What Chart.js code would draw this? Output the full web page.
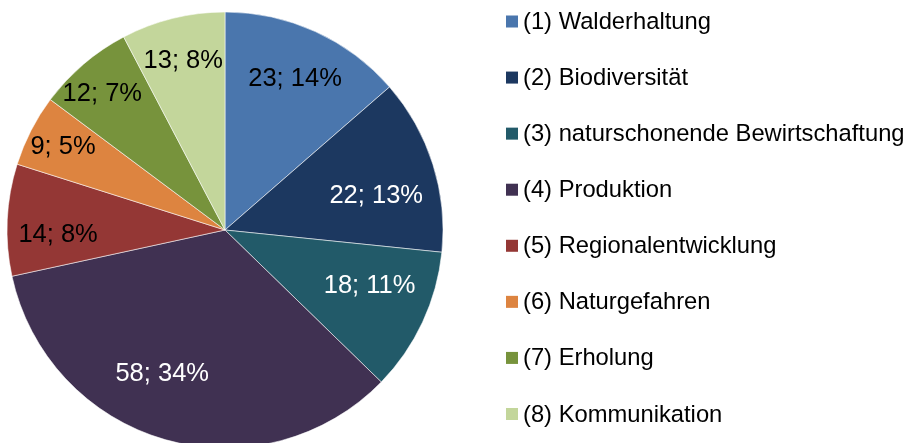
<!DOCTYPE html>
<html>
<head>
<meta charset="utf-8">
<script src="https://cdn.jsdelivr.net/npm/chart.js@4/dist/chart.umd.min.js"></script>
<style>
  html, body { margin: 0; padding: 0; background: #fff; overflow: hidden; }
  #wrap { position: relative; width: 908px; height: 452px; }
</style>
</head>
<body>
<div id="wrap"><canvas id="pieChart"></canvas></div>
<script>
// Data
const categories = [
  "(1) Walderhaltung",
  "(2) Biodiversität",
  "(3) naturschonende Bewirtschaftung",
  "(4) Produktion",
  "(5) Regionalentwicklung",
  "(6) Naturgefahren",
  "(7) Erholung",
  "(8) Kommunikation"
];
const counts = [23, 22, 18, 58, 14, 9, 12, 13];
const percents = [14, 13, 11, 34, 8, 5, 7, 8];

const colors = ["#4A76AD", "#1C3860", "#225A69", "#403152", "#943735", "#DD8440", "#77933C", "#C3D69B"];
const labelColors = ["#000", "#fff", "#fff", "#fff", "#000", "#000", "#000", "#000"];
// label placement: fraction of radius, nudge of angle in degrees
const labelRadius = [0.763, 0.711, 0.711, 0.72, 0.766, 0.835, 0.84, 0.80];
const labelNudge = [0.4, 4.9, -3.9, 7.6, -4.2, 0, -1.6, 0];

// slice labels "n; p%"
const sliceLabels = {
  id: "sliceLabels",
  afterDatasetsDraw(chart) {
    const ctx = chart.ctx;
    const arcs = chart.getDatasetMeta(0).data;
    ctx.save();
    ctx.font = "25.5px 'Liberation Sans', Arial, sans-serif";
    ctx.textAlign = "center";
    ctx.textBaseline = "middle";
    arcs.forEach((arc, i) => {
      const p = arc.getProps(["x", "y", "startAngle", "endAngle", "outerRadius"], true);
      const mid = (p.startAngle + p.endAngle) / 2 + labelNudge[i] * Math.PI / 180;
      const r = p.outerRadius * labelRadius[i];
      ctx.fillStyle = labelColors[i];
      ctx.fillText(counts[i] + "; " + percents[i] + "%", p.x + Math.cos(mid) * r, p.y + Math.sin(mid) * r);
    });
    ctx.restore();
  }
};

// legend on the right
const sideLegend = {
  id: "sideLegend",
  afterDraw(chart) {
    const ctx = chart.ctx;
    const ds = chart.data.datasets[0];
    ctx.save();
    ctx.font = "23.75px 'Liberation Sans', Arial, sans-serif";
    ctx.textBaseline = "middle";
    chart.data.labels.forEach((label, i) => {
      const cy = 21.5 + i * 56.07;
      ctx.fillStyle = ds.backgroundColor[i];
      ctx.fillRect(506, cy - 6, 12, 12);
      ctx.fillStyle = "#000";
      ctx.fillText(label, 523, cy + 1);
    });
    ctx.restore();
  }
};

const chart = new Chart("pieChart", {
  type: "pie",
  data: {
    labels: categories,
    datasets: [
      {
        data: counts,
        backgroundColor: colors,
        borderColor: "rgba(255,255,255,0.55)",
        borderWidth: 1,
        hoverOffset: 0,
      },
    ],
  },
  options: {
    responsive: true,
    maintainAspectRatio: false,
    animation: false,
    radius: 218,
    layout: {
      padding: { left: 7, top: 12, right: 465, bottom: 4 },
    },
    plugins: {
      legend: { display: false },
      tooltip: { enabled: false },
    },
  },
  plugins: [sliceLabels, sideLegend],
});
</script>
</body>
</html>
